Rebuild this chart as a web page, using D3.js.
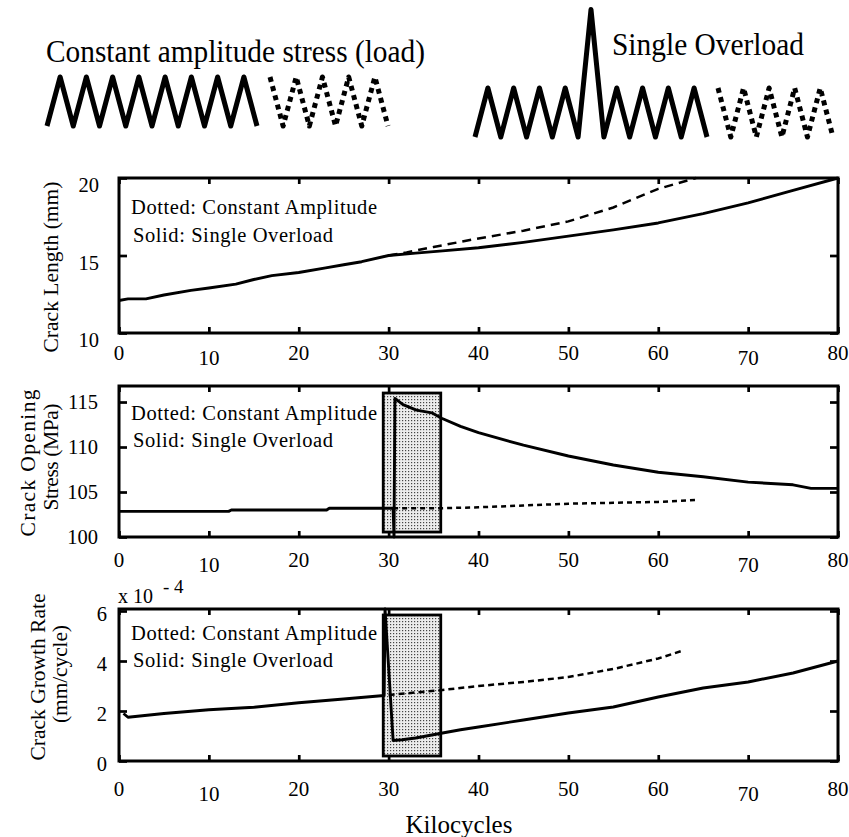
<!DOCTYPE html>
<html>
<head>
<meta charset="utf-8">
<script src="https://cdn.jsdelivr.net/npm/d3@7"></script>
<style>
  body { margin: 0; background: #fff; }
</style>
</head>
<body>
<div id="vis"></div>
<script>
// Datos
const kilocycleTicks = [0, 10, 20, 30, 40, 50, 60, 70, 80];
const lengthTicks = [10, 15, 20];
const openingTicks = [100, 105, 110, 115];
const rateTicks = [0, 2, 4, 6];

// Esquemas de carga (arriba)
const constantLoad = [0, 1, 0, 1, 0, 1, 0, 1, 0, 1, 0, 1, 0, 1, 0, 1, 0];
const constantLoadDotted = [1, 0, 1, 0, 1, 0, 1, 0, 1, 0];
const overloadLoad = [0, 1, 0, 1, 0, 1, 0, 1, 0, 2.6, 0, 1, 0, 1, 0, 1, 0, 1, 0];
const overloadLoadDotted = [1, 0, 1, 0, 1, 0, 1, 0, 1, 0];

// Crack Length (mm)
const lengthSolid = [
  [0, 12.1], [1, 12.2], [3, 12.2], [5, 12.45], [8, 12.75], [10, 12.9], [13, 13.15],
  [15, 13.45], [17, 13.7], [20, 13.9], [23, 14.2], [25, 14.4], [27, 14.6], [30, 15.0],
  [33, 15.15], [36, 15.3], [40, 15.5], [45, 15.85], [50, 16.25], [55, 16.65],
  [60, 17.1], [65, 17.7], [70, 18.4], [75, 19.2], [80, 20.0]
];
const lengthDashed = [
  [30, 15.0], [32, 15.2], [35, 15.55], [40, 16.1], [45, 16.6], [50, 17.2],
  [55, 18.1], [60, 19.3], [64.2, 20.0]
];

// Crack Opening Stress (MPa)
const openingSolid = [
  [0, 102.85], [12.2, 102.85], [12.5, 103.0], [23.1, 103.0], [23.4, 103.2], [30.5, 103.2],
  [30.6, 100.0], [30.7, 115.4], [31.6, 114.7], [33.1, 114.1], [34.8, 113.8], [35.9, 113.2],
  [38, 112.3], [40, 111.6], [45, 110.2], [50, 109.0], [55, 108.0], [60, 107.2],
  [65, 106.7], [70, 106.1], [75, 105.8], [77, 105.4], [80, 105.4]
];
const openingDashed = [
  [30.5, 103.2], [36, 103.2], [40, 103.3], [45, 103.5], [50, 103.7], [55, 103.8],
  [60, 103.9], [64.1, 104.1]
];

// Crack Growth Rate (x 10^-4 mm/cycle)
const rateSolid = [
  [0.5, 1.9], [1, 1.75], [5, 1.9], [10, 2.05], [15, 2.15], [20, 2.33], [25, 2.48],
  [29.5, 2.62], [29.6, 6.08], [30.5, 0.82], [31.5, 0.85], [33, 0.92], [36, 1.12],
  [38, 1.25], [40, 1.36], [45, 1.64], [50, 1.92], [55, 2.16], [60, 2.56], [65, 2.92],
  [70, 3.16], [75, 3.52], [80, 4.0]
];
const rateDashed = [
  [30, 2.64], [33, 2.74], [36, 2.84], [40, 3.0], [45, 3.16], [50, 3.36], [55, 3.68],
  [60, 4.1], [62.6, 4.4]
];

// Zona sombreada de la sobrecarga
const overloadZone = [29.4, 35.8];
const openingZone = [100.55, 116.0];
const rateZone = [0.2, 5.84];

const WIDTH = 849;
const HEIGHT = 837;
const X_LEFT = 119;
const X_RIGHT = 838;
const FONT = "'Liberation Serif', 'Times New Roman', Times, 'DejaVu Serif', serif";

const SVG = d3.select("#vis").append("svg")
  .attr("width", WIDTH).attr("height", HEIGHT)
  .attr("font-family", FONT)
  .style("font-family", FONT);

// patron punteado para la zona
const pattern = SVG.append("defs").append("pattern")
  .attr("id", "stipple").attr("width", 3).attr("height", 3)
  .attr("patternUnits", "userSpaceOnUse");
pattern.append("rect").attr("width", 3).attr("height", 3).attr("fill", "#ececec");
pattern.append("rect").attr("width", 1.2).attr("height", 1.2).attr("fill", "#444");

const xScale = d3.scaleLinear().domain([0, 80]).range([X_LEFT, X_RIGHT]);

const PANELS = [
  { top: 178, bottom: 333, domain: [10, 20], ticks: lengthTicks, tickDy: 7, tickX: 99,
    xLabelY: 360, solid: lengthSolid, dashed: lengthDashed, dash: "9,6", zone: null, legendY: [214, 242] },
  { top: 386, bottom: 537, domain: [100, 116.78], ticks: openingTicks, tickDy: 0, tickX: 98,
    xLabelY: 567, solid: openingSolid, dashed: openingDashed, dash: "5,4", zone: openingZone, legendY: [420, 447] },
  { top: 609, bottom: 761, domain: [0, 6.08], ticks: rateTicks, tickDy: 3, tickX: 107,
    xLabelY: 796, solid: rateSolid, dashed: rateDashed, dash: "6,4", zone: rateZone, legendY: [640, 667] }
];

PANELS.forEach((p) => {
  const yScale = d3.scaleLinear().domain(p.domain).range([p.bottom, p.top]);
  const g = SVG.append("g");
  const line = d3.line().x((d) => xScale(d[0])).y((d) => yScale(d[1]));

  if (p.zone) {
    g.append("rect")
      .attr("x", xScale(overloadZone[0]))
      .attr("y", yScale(p.zone[1]))
      .attr("width", xScale(overloadZone[1]) - xScale(overloadZone[0]))
      .attr("height", yScale(p.zone[0]) - yScale(p.zone[1]))
      .attr("fill", "url(#stipple)")
      .attr("stroke", "#000")
      .attr("stroke-width", 2.8);
  }

  g.append("path").datum(p.dashed)
    .attr("d", line).attr("fill", "none").attr("stroke", "#000")
    .attr("stroke-width", 2.5).attr("stroke-dasharray", p.dash);

  g.append("path").datum(p.solid)
    .attr("d", line).attr("fill", "none").attr("stroke", "#000")
    .attr("stroke-width", 2.9).attr("stroke-linejoin", "round");

  // ejes: ticks hacia adentro en los cuatro lados
  const axes = [
    { axis: d3.axisBottom(xScale).tickValues(kilocycleTicks).tickSize(-6), t: `translate(0,${p.bottom})` },
    { axis: d3.axisTop(xScale).tickValues(kilocycleTicks).tickSize(-6), t: `translate(0,${p.top})` },
    { axis: d3.axisLeft(yScale).tickValues(p.ticks).tickSize(-8), t: `translate(${X_LEFT},0)` },
    { axis: d3.axisRight(yScale).tickValues(p.ticks).tickSize(-8), t: `translate(${X_RIGHT},0)` }
  ];
  axes.forEach((a) => {
    const ax = g.append("g").attr("transform", a.t).call(a.axis);
    ax.select(".domain").remove();
    ax.selectAll("line").attr("stroke", "#000").attr("stroke-width", 2.7);
    ax.selectAll("text").remove();
  });

  g.append("rect")
    .attr("x", X_LEFT).attr("y", p.top)
    .attr("width", X_RIGHT - X_LEFT).attr("height", p.bottom - p.top)
    .attr("fill", "none").attr("stroke", "#000").attr("stroke-width", 3);

  // etiquetas de ticks
  g.selectAll(".xlab").data(kilocycleTicks).join("text")
    .attr("x", (d) => xScale(d))
    .attr("y", (d) => (d === 10 || d === 70) ? p.xLabelY + 5 : p.xLabelY)
    .attr("text-anchor", "middle")
    .attr("font-size", 21)
    .text((d) => d);

  g.selectAll(".ylab").data(p.ticks).join("text")
    .attr("x", p.tickX)
    .attr("y", (d) => yScale(d) + p.tickDy)
    .attr("dy", "0.35em")
    .attr("text-anchor", "end")
    .attr("font-size", 20.5)
    .text((d) => d);

  g.append("text").attr("x", 131).attr("y", p.legendY[0])
    .attr("font-size", 20.5).attr("textLength", 246).attr("lengthAdjust", "spacing")
    .text("Dotted: Constant Amplitude");
  g.append("text").attr("x", 133).attr("y", p.legendY[1])
    .attr("font-size", 20.5).attr("textLength", 200).attr("lengthAdjust", "spacing")
    .text("Solid: Single Overload");
});

// titulos de ejes Y
function yTitle(text, x, y, len) {
  SVG.append("text")
    .attr("transform", `translate(${x},${y}) rotate(-90)`)
    .attr("text-anchor", "middle")
    .attr("font-size", 21.5)
    .attr("textLength", len)
    .attr("lengthAdjust", "spacing")
    .text(text);
}
yTitle("Crack Length (mm)", 58, 267, 171);
yTitle("Crack Opening", 35, 463, 147);
yTitle("Stress (MPa)", 58, 457, 107);
yTitle("Crack Growth Rate", 45, 677, 167);
yTitle("(mm/cycle)", 67, 674, 98);

SVG.append("text").attr("x", 118).attr("y", 603).attr("font-size", 20).text("x 10");
SVG.append("text").attr("x", 163).attr("y", 593).attr("font-size", 19).text("- 4");

SVG.append("text").attr("x", 459).attr("y", 833)
  .attr("text-anchor", "middle").attr("font-size", 25).text("Kilocycles");

// esquemas de carga arriba
function drawLoad(values, x0, x1, yLow, yHigh, dotted) {
  const sx = d3.scaleLinear().domain([0, values.length - 1]).range([x0, x1]);
  const sy = d3.scaleLinear().domain([0, 1]).range([yLow, yHigh]);
  SVG.append("path").datum(values)
    .attr("d", d3.line().x((d, i) => sx(i)).y((d) => sy(d)))
    .attr("fill", "none").attr("stroke", "#000")
    .attr("stroke-width", 5)
    .attr("stroke-linejoin", "round")
    .attr("stroke-dasharray", dotted ? "5,4.5" : null);
}
drawLoad(constantLoad, 47, 257, 126, 77, false);
drawLoad(constantLoadDotted, 270, 388, 126, 77, true);
drawLoad(overloadLoad, 475, 707, 137, 88, false);
drawLoad(overloadLoadDotted, 718, 833, 137, 88, true);

SVG.append("text").attr("x", 46).attr("y", 62)
  .attr("font-size", 32).attr("textLength", 379).attr("lengthAdjust", "spacingAndGlyphs")
  .text("Constant amplitude stress (load)");
SVG.append("text").attr("x", 612).attr("y", 55)
  .attr("font-size", 32).attr("textLength", 192).attr("lengthAdjust", "spacingAndGlyphs")
  .text("Single Overload");
</script>
</body>
</html>
